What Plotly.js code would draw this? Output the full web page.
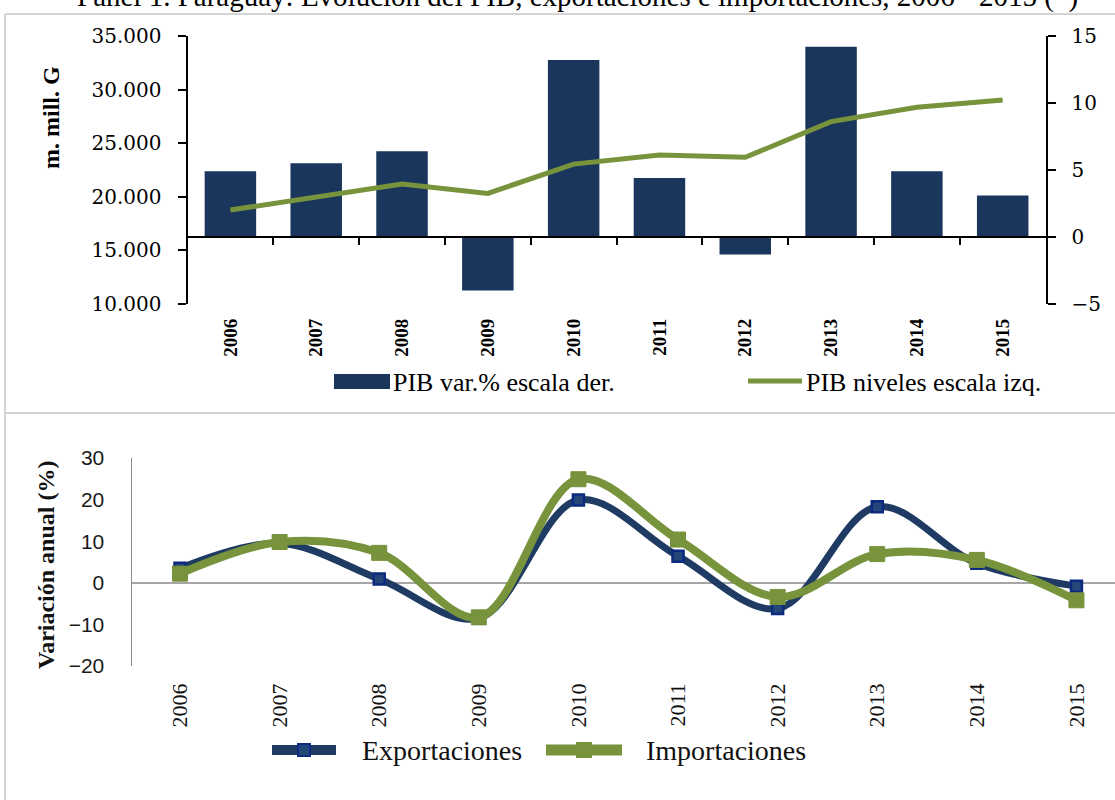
<!DOCTYPE html>
<html>
<head>
<meta charset="utf-8">
<script src="https://cdn.plot.ly/plotly-3.0.1.min.js"></script>
<style>html,body{margin:0;padding:0;background:#fff;} #chart{width:1115px;height:800px;}</style>
</head>
<body>
<div id="chart"></div>
<script>
// ---- data ----
const years = ['2006','2007','2008','2009','2010','2011','2012','2013','2014','2015'];
const pibVar = [4.9, 5.5, 6.4, -4.0, 13.2, 4.4, -1.3, 14.2, 4.9, 3.1];            // % (right scale)
const pibNiveles = [18770, 19950, 21190, 20320, 23050, 23900, 23680, 27010, 28350, 29030]; // m. mill. G (left scale)
const exportaciones = [3.5, 9.5, 0.9, -8.5, 19.9, 6.4, -6.2, 18.3, 4.7, -0.8];
const importaciones = [2.2, 9.8, 7.2, -8.3, 24.9, 10.4, -3.4, 6.9, 5.5, -4.2];
const titleText = 'Panel 1. Paraguay: Evolución del PIB, exportaciones e importaciones, 2006 - 2015 (*)';
const legendTop = ['PIB var.% escala der.', 'PIB niveles escala izq.'];
const legendBottom = ['Exportaciones', 'Importaciones'];

// ---- helpers (pixel -> paper) ----
const W = 1115, H = 800;
const px = x => x / W;
const py = y => 1 - y / H;

const NAVY = '#1b365d', GREEN = '#77933c', BLUE_LINE = '#1f3b63';
const SERIF = 'Liberation Serif, Times New Roman, serif';

const traces = [
  {type:'bar', x: years, y: pibVar, xaxis:'x', yaxis:'y', marker:{color: NAVY}, width:0.6, hoverinfo:'x+y', name: legendTop[0]},
  {type:'scatter', mode:'lines', x: years, y: pibNiveles, xaxis:'x', yaxis:'y2', line:{color: GREEN, width:5}, name: legendTop[1]},
  {type:'scatter', x: [], y: [], xaxis:'x3', yaxis:'y', hoverinfo:'skip', showlegend:false},
  {type:'scatter', mode:'lines+markers', x: years, y: exportaciones, xaxis:'x2', yaxis:'y3',
   line:{color: BLUE_LINE, width:7, shape:'spline', smoothing:1},
   marker:{symbol:'square', size:11, color:'#24477a', line:{color:'#0b2a80', width:2.5}}, name: legendBottom[0]},
  {type:'scatter', mode:'lines+markers', x: years, y: importaciones, xaxis:'x2', yaxis:'y3',
   line:{color: GREEN, width:8, shape:'spline', smoothing:1},
   marker:{symbol:'square', size:15, color: GREEN, line:{color: GREEN, width:1}}, name: legendBottom[1]}
];

const boundaries = years.slice(1).map((_, i) => i + 0.5);

const shapes = [
  // panel frame
  {type:'line', xref:'paper', yref:'paper', x0:px(5), x1:px(5), y0:py(14), y1:0, line:{color:'#d4d4d4', width:2}},
  {type:'line', xref:'paper', yref:'paper', x0:px(5), x1:1, y0:py(14), y1:py(14), line:{color:'#d4d4d4', width:2}},
  {type:'line', xref:'paper', yref:'paper', x0:px(5), x1:1, y0:py(413), y1:py(413), line:{color:'#d4d4d4', width:2}},
  // top legend swatches
  {type:'rect', xref:'paper', yref:'paper', x0:px(334), x1:px(390), y0:py(389), y1:py(374), fillcolor: NAVY, line:{width:0}},
  {type:'line', xref:'paper', yref:'paper', x0:px(748), x1:px(802), y0:py(381), y1:py(381), line:{color: GREEN, width:5}},
  // bottom legend swatches
  {type:'line', xref:'paper', yref:'paper', x0:px(272), x1:px(336), y0:py(750), y1:py(750), line:{color: BLUE_LINE, width:10}},
  {type:'rect', xref:'paper', yref:'paper', x0:px(298), x1:px(310), y0:py(756), y1:py(744), fillcolor:'#24477a', line:{color:'#0b2a80', width:2}},
  {type:'line', xref:'paper', yref:'paper', x0:px(546), x1:px(622), y0:py(750), y1:py(750), line:{color: GREEN, width:11}},
  {type:'rect', xref:'paper', yref:'paper', x0:px(576), x1:px(592), y0:py(758), y1:py(742), fillcolor: GREEN, line:{width:0}}
];

const annotations = [
  {xref:'paper', yref:'paper', x:px(577), y:py(15), xanchor:'center', yanchor:'bottom', showarrow:false,
   text: titleText, font:{family: SERIF, size:29, color:'#000'}},
  {xref:'paper', yref:'paper', x:px(51), y:py(118), xanchor:'center', yanchor:'middle', showarrow:false, textangle:-90,
   text:'m. mill. G', font:{family: SERIF, size:24, color:'#000', weight:'bold'}},
  {xref:'paper', yref:'paper', x:px(46), y:py(565), xanchor:'center', yanchor:'middle', showarrow:false, textangle:-90,
   text:'Variación anual (%)', font:{family: SERIF, size:24, color:'#111', weight:'bold'}},
  {xref:'paper', yref:'paper', x:px(391), y:py(382), xanchor:'left', yanchor:'middle', showarrow:false,
   text: legendTop[0], font:{family: SERIF, size:26, color:'#000'}},
  {xref:'paper', yref:'paper', x:px(804), y:py(382), xanchor:'left', yanchor:'middle', showarrow:false,
   text: legendTop[1], font:{family: SERIF, size:26, color:'#000'}},
  {xref:'paper', yref:'paper', x:px(360), y:py(750), xanchor:'left', yanchor:'middle', showarrow:false,
   text: legendBottom[0], font:{family: SERIF, size:28, color:'#111'}},
  {xref:'paper', yref:'paper', x:px(644), y:py(750), xanchor:'left', yanchor:'middle', showarrow:false,
   text: legendBottom[1], font:{family: SERIF, size:28, color:'#111'}}
];

const layout = {
  width: W, height: H,
  margin:{l:0, r:0, t:0, b:0},
  paper_bgcolor:'#fff', plot_bgcolor:'rgba(0,0,0,0)',
  showlegend:false,
  separators:',.',
  xaxis:{domain:[px(187.5), px(1045.6)], anchor:'y', type:'category', range:[-0.5, 9.5],
         showline:false, ticks:'', showgrid:false, zeroline:false, tickangle:-90,
         tickfont:{family: SERIF, size:19, color:'#000', weight:'bold'}, ticklabelstandoff:10},
  xaxis3:{overlaying:'x', anchor:'free', position: py(237.3), type:'linear', range:[-0.5, 9.5],
          tickmode:'array', tickvals: boundaries, ticks:'outside', ticklen:7, tickwidth:2, tickcolor:'#000',
          showticklabels:false, showline:true, linecolor:'#000', linewidth:2, showgrid:false, zeroline:false},
  yaxis:{domain:[py(304), py(36)], anchor:'x', side:'right', range:[-5, 15], tick0:0, dtick:5,
         showgrid:false, zeroline:false, showline:true, linecolor:'#000', linewidth:2,
         ticks:'outside', ticklen:8, tickwidth:2, tickcolor:'#000',
         tickfont:{family:'DejaVu Serif', size:20, color:'#000'}, ticklabelstandoff:12},
  yaxis2:{overlaying:'y', anchor:'x', side:'left', range:[10000, 35000], tick0:10000, dtick:5000, tickformat:',.0f',
          showgrid:false, zeroline:false, showline:true, linecolor:'#000', linewidth:2,
          ticks:'outside', ticklen:8, tickwidth:2, tickcolor:'#000',
          tickfont:{family:'DejaVu Serif', size:20, color:'#000'}, ticklabelstandoff:12},
  xaxis2:{domain:[px(132), 1], anchor:'y3', type:'category', range:[-0.482, 9.387],
          showline:false, ticks:'', showgrid:false, zeroline:false, tickangle:-90,
          tickfont:{family: SERIF, size:22, color:'#111'}, ticklabelstandoff:12},
  yaxis3:{domain:[py(666), py(458)], anchor:'x2', range:[-20, 30], tick0:0, dtick:10,
          showline:true, linecolor:'#8c8c8c', linewidth:1.5, ticks:'', showgrid:false,
          zeroline:true, zerolinecolor:'#a6a6a6', zerolinewidth:2,
          tickfont:{family:'Liberation Sans, Arial, sans-serif', size:21, color:'#1a1a1a'}, ticklabelstandoff:22},
  shapes: shapes,
  annotations: annotations
};

Plotly.newPlot('chart', traces, layout, {displayModeBar:false, staticPlot:true});
</script>
</body>
</html>
